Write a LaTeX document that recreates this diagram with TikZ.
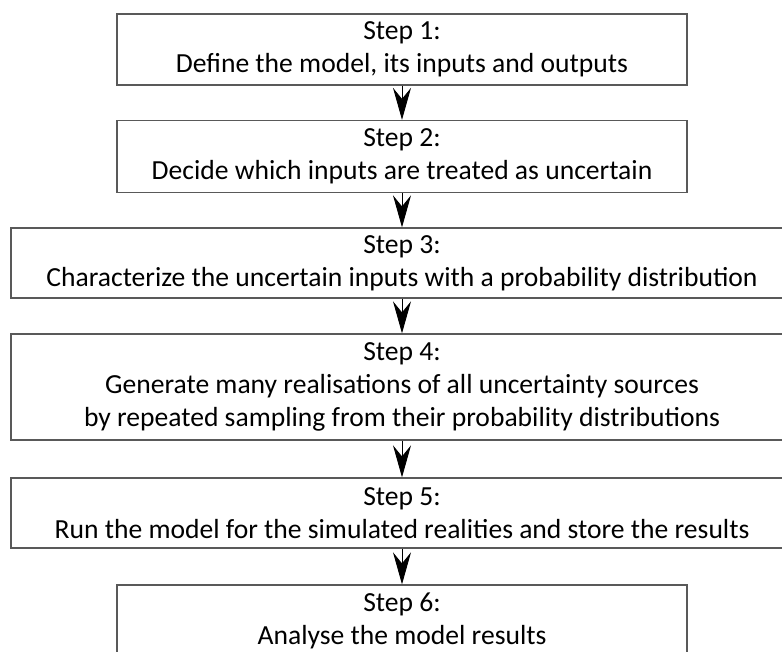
\documentclass[tikz,border=0pt]{standalone}
\usepackage{fontspec}
\setmainfont{Carlito}
\usetikzlibrary{arrows.meta}

\begin{document}
\begin{tikzpicture}[x=1pt,y=-1pt,
  stepbox/.style={draw=black!65, line width=1.3pt, fill=white, inner sep=0pt,
    align=center, font=\fontsize{27.6}{33}\selectfont},
  flow/.style={draw=black, line width=0.9pt,
    -{Stealth[length=32pt, width=18pt, inset=11pt]}}
]
\useasboundingbox (0,0) rectangle (782,651);

\node[stepbox, minimum width=570pt, minimum height=71pt] (s1) at (402,49.5)
  {Step 1:\\Define the model, its inputs and outputs};
\node[stepbox, minimum width=570pt, minimum height=72pt] (s2) at (402,156.5)
  {Step 2:\\Decide which inputs are treated as uncertain};
\node[stepbox, minimum width=782pt, minimum height=70pt] (s3) at (402,263)
  {Step 3:\\Characterize the uncertain inputs with a probability distribution};
\node[stepbox, minimum width=782pt, minimum height=106pt] (s4) at (402,387)
  {Step 4:\\Generate many realisations of all uncertainty sources\\by repeated sampling from their probability distributions};
\node[stepbox, minimum width=782pt, minimum height=70pt] (s5) at (402,513)
  {Step 5:\\Run the model for the simulated realities and store the results};
\node[stepbox, minimum width=570pt, minimum height=71pt] (s6) at (402,620.5)
  {Step 6:\\Analyse the model results};

\draw[flow] (s1) -- (s2);
\draw[flow] (s2) -- (s3);
\draw[flow] (s3) -- (s4);
\draw[flow] (s4) -- (s5);
\draw[flow] (s5) -- (s6);
\end{tikzpicture}
\end{document}
